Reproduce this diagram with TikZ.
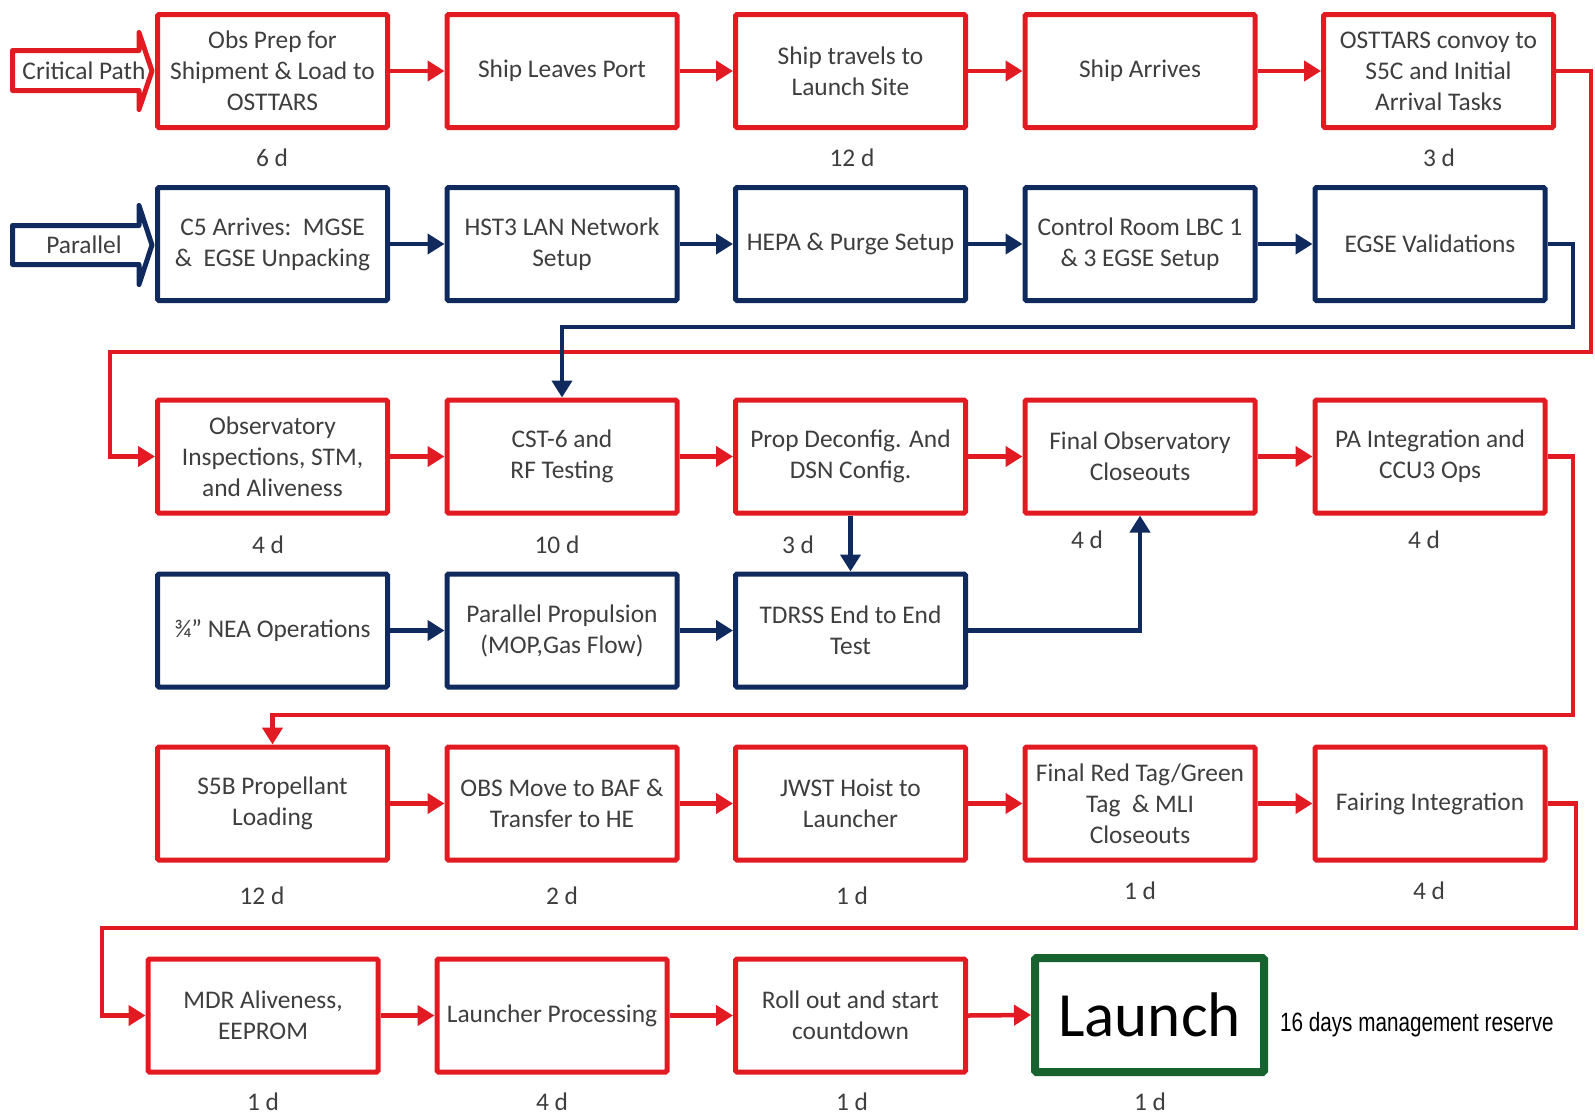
\documentclass[tikz,border=0pt]{standalone}
\usepackage{fontspec}
\setmainfont{Carlito}
\newfontfamily\narrowfont{Liberation Sans}[FakeStretch=0.78]
\usetikzlibrary{arrows.meta}

\definecolor{pathred}{RGB}{226,26,34}
\definecolor{navy}{RGB}{17,42,94}
\definecolor{launchgreen}{RGB}{24,98,48}
\definecolor{txtgray}{RGB}{62,62,62}

\begin{document}
\begin{tikzpicture}[x=1pt,y=-1pt,
  task/.style={draw, line width=5pt, rounded corners=1.5pt,
    minimum width=230pt, minimum height=113pt, inner sep=1pt,
    align=center, text=txtgray, fill=white,
    font=\fontsize{25.4}{31}\selectfont},
  crittask/.style={task, draw=pathred},
  partask/.style={task, draw=navy},
  dur/.style={text=txtgray, inner sep=0pt, font=\fontsize{25.4}{31}\selectfont},
  blockarrow/.style={line width=5pt, fill=white, line join=round},
  critlink/.style={draw=pathred, line width=4.5pt, -{Triangle[length=17pt,width=20pt]}},
  parlink/.style={draw=navy, line width=4.5pt, -{Triangle[length=17pt,width=20pt]}},
]
\useasboundingbox (0,0) rectangle (1595,1114);

% entry arrows
\draw[blockarrow, draw=pathred] (12.5,50.5) -- (139,50.5) -- (139,32.5) -- (152,71)
  -- (139,109.5) -- (139,90.5) -- (12.5,90.5) -- cycle;
\node[dur] (cptext) at (84,71) {Critical Path};
\draw[blockarrow, draw=navy] (12.5,225.5) -- (139,225.5) -- (139,205.5) -- (152,245)
  -- (139,284.5) -- (139,264.5) -- (12.5,264.5) -- cycle;
\node[dur] (partext) at (84,245) {Parallel};

% row 1: critical path
\node[crittask] (obsprep) at (272.5,71) {Obs Prep for\\Shipment \& Load to\\OSTTARS};
\node[crittask] (leaves) at (562,71) {Ship Leaves Port};
\node[crittask] (travels) at (850.5,71) {Ship travels to\\Launch Site};
\node[crittask] (arrives) at (1140,71) {Ship Arrives};
\node[crittask] (convoy) at (1438.5,71) {OSTTARS convoy to\\S5C and Initial\\Arrival Tasks};

% row 2: parallel
\node[partask] (c5) at (272.5,244) {C5 Arrives:\ \ MGSE\\\&\ \ EGSE Unpacking};
\node[partask] (lan) at (562,244) {HST3 LAN Network\\Setup};
\node[partask] (hepa) at (850.5,244) {HEPA \& Purge Setup};
\node[partask] (ctrl) at (1140,244) {Control Room LBC 1\\\& 3 EGSE Setup};
\node[partask] (egse) at (1430,244) {EGSE Validations};

% row 3: critical path
\node[crittask] (insp) at (272.5,456.5) {Observatory\\Inspections, STM,\\and Aliveness};
\node[crittask] (cst) at (562,456.5) {CST-6 and\\RF Testing};
\node[crittask] (prop) at (850.5,456.5) {Prop Deconfig. And\\DSN Config.};
\node[crittask] (finalobs) at (1140,456.5) {Final Observatory\\Closeouts};
\node[crittask] (pa) at (1430,456.5) {PA Integration and\\CCU3 Ops};

% row 4: parallel
\node[partask] (nea) at (272.5,630.5) {¾” NEA Operations};
\node[partask] (ppro) at (562,630.5) {Parallel Propulsion\\(MOP,Gas Flow)};
\node[partask] (tdrss) at (850.5,630.5) {TDRSS End to End\\Test};

% row 5: critical path
\node[crittask] (s5b) at (272.5,803.5) {S5B Propellant\\Loading};
\node[crittask] (obsmove) at (562,803.5) {OBS Move to BAF \&\\Transfer to HE};
\node[crittask] (hoist) at (850.5,803.5) {JWST Hoist to\\Launcher};
\node[crittask] (redtag) at (1140,803.5) {Final Red Tag/Green\\Tag\ \ \& MLI\\Closeouts};
\node[crittask] (fairing) at (1430,803.5) {Fairing Integration};

% row 6: critical path to launch
\node[crittask] (mdr) at (263,1015.5) {MDR Aliveness,\\EEPROM};
\node[crittask] (lproc) at (552,1015.5) {Launcher Processing};
\node[crittask] (rollout) at (850.5,1015.5) {Roll out and start\\countdown};
\node[task, draw=launchgreen, line width=8pt, minimum width=229pt, minimum height=114pt,
  text=black, font=\fontsize{63}{70}\selectfont] (launch) at (1149.5,1015) {Launch};
\node[anchor=west, inner sep=0pt, font=\narrowfont\fontsize{26.5}{30}\selectfont]
  (reserve) at (1280,1025) {16 days management reserve};

% durations
\node[dur] (d11) at (272,158) {6 d};
\node[dur] (d13) at (852,158) {12 d};
\node[dur] (d15) at (1439,158) {3 d};
\node[dur] (d31) at (268,545) {4 d};
\node[dur] (d32) at (557,545) {10 d};
\node[dur] (d33) at (798,545) {3 d};
\node[dur] (d34) at (1087,540) {4 d};
\node[dur] (d35) at (1424,540) {4 d};
\node[dur] (d51) at (262,896) {12 d};
\node[dur] (d52) at (562,896) {2 d};
\node[dur] (d53) at (852,896) {1 d};
\node[dur] (d54) at (1140,891) {1 d};
\node[dur] (d55) at (1429,891) {4 d};
\node[dur] (d61) at (263,1102) {1 d};
\node[dur] (d62) at (552,1102) {4 d};
\node[dur] (d63) at (852,1102) {1 d};
\node[dur] (d64) at (1150,1102) {1 d};

% bend points of the routed connectors
\coordinate (k1) at (1591,352);
\coordinate (k2) at (110,352);
\coordinate (b1) at (1573,327);
\coordinate (k3) at (1573,715);
\coordinate (k4) at (1576,928);
\coordinate (k5) at (102,928);

% critical path links
\draw[critlink] (obsprep.east) -- (leaves.west);
\draw[critlink] (leaves.east) -- (travels.west);
\draw[critlink] (travels.east) -- (arrives.west);
\draw[critlink] (arrives.east) -- (convoy.west);
\draw[critlink] (convoy.east) -| (k1) -- (k2) |- (insp.west);
\draw[critlink] (insp.east) -- (cst.west);
\draw[critlink] (cst.east) -- (prop.west);
\draw[critlink] (prop.east) -- (finalobs.west);
\draw[critlink] (finalobs.east) -- (pa.west);
\draw[critlink] (pa.east) -| (k3) -- (k3 -| s5b.north) -- (s5b.north);
\draw[critlink] (s5b.east) -- (obsmove.west);
\draw[critlink] (obsmove.east) -- (hoist.west);
\draw[critlink] (hoist.east) -- (redtag.west);
\draw[critlink] (redtag.east) -- (fairing.west);
\draw[critlink] (fairing.east) -| (k4) -- (k5) |- (mdr.west);
\draw[critlink] (mdr.east) -- (lproc.west);
\draw[critlink] (lproc.east) -- (rollout.west);
\draw[critlink] (rollout.east) -- (launch.west);

% parallel links
\draw[parlink] (c5.east) -- (lan.west);
\draw[parlink] (lan.east) -- (hepa.west);
\draw[parlink] (hepa.east) -- (ctrl.west);
\draw[parlink] (ctrl.east) -- (egse.west);
\draw[parlink] (egse.east) -| (b1) -- (b1 -| cst.north) -- (cst.north);
\draw[parlink] (nea.east) -- (ppro.west);
\draw[parlink] (ppro.east) -- (tdrss.west);
\draw[parlink] (prop.south) -- (tdrss.north);
\draw[parlink] (tdrss.east) -| (finalobs.south);
\end{tikzpicture}
\end{document}
